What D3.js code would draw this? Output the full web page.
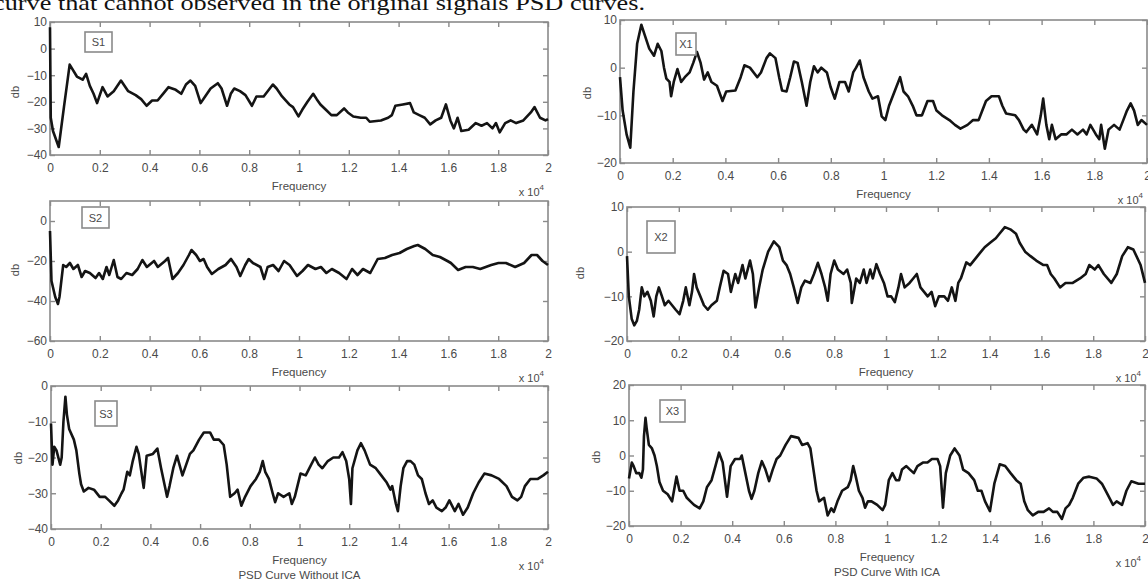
<!DOCTYPE html>
<html>
<head>
<meta charset="utf-8">
<script src="https://cdn.jsdelivr.net/npm/d3@7"></script>
<style>
  html, body { margin: 0; padding: 0; background: #fff; }
  svg { display: block; }
</style>
</head>
<body>
<svg id="chart" width="1148" height="583"></svg>
<script>
// ---------------- DATA (frequency in units of 1e4 Hz, PSD in dB) ----------------
const captionText = "curve that cannot observed in the original signals PSD curves.";
const xTicks = [0, 0.2, 0.4, 0.6, 0.8, 1, 1.2, 1.4, 1.6, 1.8, 2];
const xTickLabels = ["0", "0.2", "0.4", "0.6", "0.8", "1", "1.2", "1.4", "1.6", "1.8", "2"];
const yTicksS1 = [10, 0, -10, -20, -30, -40];
const yTicksS2 = [0, -20, -40, -60];
const yTicksS3 = [0, -10, -20, -30, -40];
const yTicksX1 = [10, 0, -10, -20];
const yTicksX2 = [10, 0, -10, -20];
const yTicksX3 = [20, 10, 0, -10, -20];
const panelNames = ["S1", "S2", "S3", "X1", "X2", "X3"];
const bottomTitles = ["PSD Curve Without ICA", "PSD Curve With ICA"];

const s1Freq = [0.000,0.003,0.012,0.035,0.056,0.079,0.108,0.131,0.145,0.160,0.175,0.189,0.211,0.231,0.256,0.285,0.314,0.344,0.366,0.388,0.410,0.432,0.454,0.476,0.505,0.527,0.546,0.564,0.583,0.605,0.623,0.645,0.674,0.689,0.711,0.726,0.740,0.763,0.785,0.811,0.829,0.858,0.895,0.910,0.932,0.961,0.976,0.998,1.013,1.034,1.057,1.071,1.086,1.108,1.130,1.152,1.181,1.196,1.218,1.248,1.270,1.284,1.329,1.358,1.373,1.387,1.417,1.446,1.461,1.483,1.505,1.527,1.549,1.571,1.590,1.608,1.622,1.637,1.652,1.681,1.710,1.733,1.755,1.777,1.791,1.806,1.828,1.850,1.872,1.901,1.931,1.946,1.968,1.990,2.000];
const s1Db = [8,-26,-31,-37,-22,-6,-10.5,-11.7,-9.5,-14,-17,-20.5,-14.5,-18,-16,-12,-16,-17.5,-19,-21.5,-19.5,-19.5,-17,-14.5,-15.5,-17,-13.5,-12,-14,-20.5,-18,-15,-13,-15,-21.5,-17,-15,-16,-17.5,-21.5,-18,-18,-13.5,-15,-18,-21,-22,-25.5,-23,-20,-17,-19,-21,-23,-25,-25,-22.5,-24,-25.5,-26,-26,-27.5,-27,-26,-25,-21.5,-21,-20.5,-24,-25,-26,-28.5,-27,-26,-21,-27,-30,-26,-31,-30.5,-28,-29,-28,-30,-28,-31.5,-28,-27,-28,-27,-24,-22,-26,-27,-26.5];

const s2Freq = [0.000,0.006,0.021,0.032,0.038,0.053,0.065,0.080,0.094,0.112,0.127,0.141,0.160,0.183,0.197,0.212,0.227,0.238,0.256,0.271,0.286,0.307,0.330,0.352,0.371,0.389,0.418,0.433,0.462,0.474,0.492,0.514,0.536,0.558,0.568,0.587,0.602,0.617,0.631,0.650,0.676,0.705,0.727,0.749,0.764,0.784,0.798,0.815,0.845,0.860,0.874,0.896,0.918,0.940,0.962,0.992,1.014,1.036,1.066,1.088,1.110,1.132,1.161,1.191,1.213,1.235,1.257,1.286,1.316,1.345,1.374,1.404,1.433,1.463,1.477,1.507,1.537,1.566,1.596,1.610,1.639,1.669,1.698,1.728,1.772,1.801,1.831,1.868,1.904,1.934,1.956,1.978,2.000];
const s2Db = [-5,-30,-38,-41.5,-38,-22,-23,-21,-24,-22,-28,-25,-26,-28.5,-26,-29,-23,-27,-19.5,-28,-29,-26,-27,-24,-19.5,-23,-20,-23,-20,-18.5,-29,-26,-22,-17,-14.5,-17,-20,-19,-23,-26.5,-24,-22,-19,-23,-27.5,-22,-19,-21,-23,-29,-23,-22,-25,-20,-22,-27.5,-25,-22,-24,-23,-26,-24,-26,-29,-24,-27,-24,-26,-19,-18.5,-17,-16,-14,-12.5,-12,-14,-17,-18,-20,-21,-24.5,-23,-23,-24,-22,-21,-21,-23,-21,-17,-17,-20,-22];

const s3Freq = [0.000,0.006,0.013,0.022,0.037,0.043,0.050,0.058,0.064,0.073,0.092,0.102,0.114,0.121,0.132,0.151,0.173,0.196,0.218,0.233,0.255,0.270,0.284,0.292,0.307,0.317,0.329,0.344,0.353,0.373,0.385,0.410,0.428,0.443,0.458,0.467,0.477,0.492,0.507,0.517,0.529,0.544,0.559,0.573,0.596,0.615,0.640,0.655,0.676,0.695,0.707,0.721,0.739,0.751,0.766,0.781,0.803,0.825,0.840,0.852,0.862,0.877,0.892,0.902,0.914,0.936,0.959,0.969,0.981,1.004,1.025,1.047,1.062,1.077,1.092,1.114,1.136,1.159,1.173,1.188,1.200,1.207,1.213,1.233,1.247,1.262,1.284,1.307,1.329,1.351,1.366,1.373,1.388,1.396,1.407,1.418,1.433,1.447,1.462,1.477,1.492,1.507,1.521,1.536,1.551,1.573,1.588,1.603,1.625,1.640,1.658,1.677,1.699,1.721,1.744,1.773,1.803,1.833,1.855,1.877,1.892,1.907,1.929,1.959,1.981,2.000];
const s3Db = [-10.5,-22,-17,-18,-22,-20,-10,-3,-8,-12,-15,-18,-24.5,-27.5,-29.5,-28.5,-29,-31,-31,-32,-33.5,-32,-30,-29,-24,-25,-21,-17,-19,-28.5,-19.5,-19,-17.5,-23,-28,-31,-28,-23,-19.5,-22,-25,-22,-19,-18,-15,-13,-13,-15,-15,-16.5,-22,-31,-30,-29,-33.5,-31,-28,-26,-24,-21,-24,-26,-30,-32.5,-30,-31,-30,-33,-31,-24.5,-25,-22,-20,-22,-23,-21,-20,-20,-18.5,-21,-26,-33,-23,-18,-16,-18,-22,-23,-25,-27,-29,-28,-33,-35,-28,-23,-21,-21,-22,-25,-26,-30,-33,-32,-34,-35,-34,-32,-35,-33,-36,-34,-30,-27,-24.5,-25,-26,-28,-31,-32,-31,-28,-26,-26,-25,-24];

const x1Freq = [0.000,0.010,0.025,0.039,0.051,0.065,0.081,0.093,0.111,0.129,0.143,0.157,0.167,0.176,0.188,0.194,0.204,0.218,0.232,0.246,0.264,0.278,0.292,0.306,0.319,0.333,0.347,0.368,0.389,0.403,0.438,0.458,0.472,0.493,0.521,0.535,0.556,0.569,0.590,0.604,0.615,0.632,0.646,0.660,0.674,0.690,0.708,0.722,0.736,0.750,0.764,0.785,0.799,0.815,0.833,0.854,0.868,0.885,0.896,0.910,0.924,0.944,0.958,0.979,0.993,1.007,1.021,1.035,1.049,1.063,1.076,1.093,1.111,1.125,1.146,1.167,1.188,1.201,1.222,1.250,1.271,1.292,1.319,1.340,1.361,1.375,1.389,1.410,1.438,1.451,1.465,1.500,1.514,1.532,1.542,1.563,1.583,1.597,1.606,1.618,1.629,1.639,1.653,1.674,1.694,1.715,1.736,1.757,1.771,1.785,1.806,1.819,1.826,1.840,1.854,1.875,1.896,1.910,1.924,1.938,1.951,1.965,1.979,2.000];
const x1Db = [-2,-9,-14,-16.8,-5,5,9,7,4,2.5,5,3.5,0,-2.3,-3,-6,-3,-0.3,-3,-2,-1,1,3.3,1,-2.5,-1,-3,-3.8,-7,-5,-4.8,-2,0.5,0,-2,-1,2,3,2,-2,-4.8,-5,-2,1.3,1,-3,-8,-3,0.3,-1,0,-1,-4,-6.5,-3,-3,-5,-1,0,1.5,-2,-5,-6.5,-6,-10.2,-11,-8,-6,-4,-2,-5,-6,-8,-10,-10,-7,-7,-9,-10,-11,-12,-12.8,-12,-11,-11,-9,-7,-6,-6,-8,-9.6,-10,-11,-13,-13.5,-12,-14,-10,-6.5,-12,-15,-12,-15,-14,-14,-13,-14,-13,-14,-12,-14,-15,-12,-17,-13,-12,-13,-11,-9,-7.5,-9,-12,-11,-12];

const x2Freq = [0.000,0.007,0.018,0.028,0.038,0.047,0.057,0.067,0.079,0.092,0.103,0.113,0.123,0.135,0.146,0.160,0.174,0.188,0.203,0.217,0.227,0.241,0.251,0.259,0.269,0.283,0.297,0.312,0.326,0.347,0.358,0.373,0.390,0.401,0.418,0.429,0.446,0.457,0.475,0.486,0.496,0.510,0.524,0.545,0.567,0.588,0.602,0.616,0.630,0.644,0.659,0.673,0.687,0.708,0.722,0.737,0.751,0.765,0.775,0.786,0.800,0.814,0.836,0.850,0.864,0.868,0.885,0.899,0.914,0.925,0.939,0.949,0.963,0.977,0.992,1.006,1.020,1.034,1.048,1.058,1.072,1.091,1.105,1.119,1.133,1.147,1.161,1.176,1.190,1.204,1.225,1.239,1.254,1.268,1.279,1.289,1.310,1.325,1.339,1.353,1.367,1.381,1.402,1.424,1.438,1.459,1.480,1.502,1.516,1.537,1.558,1.580,1.608,1.622,1.636,1.650,1.672,1.693,1.721,1.749,1.771,1.785,1.806,1.820,1.841,1.870,1.891,1.912,1.934,1.955,1.983,2.000];
const x2Db = [-1,-10,-15,-16.5,-15.5,-13,-8,-10,-9,-11,-14.5,-10,-8,-10,-12,-11,-12,-13,-14,-11,-8,-12,-9,-5,-8,-10,-12,-13,-12,-11,-8,-4.3,-5,-9,-5,-7,-3,-6,-2,-5,-12.5,-8,-4,0,2.3,1,-2,-3,-5,-8,-11.5,-8,-6.5,-7,-5,-2.5,-5,-8,-11,-5,-2,-4,-5,-4,-7,-11.5,-6,-7,-4,-7,-4,-6,-2.8,-5,-7,-10,-10,-11.3,-8,-5,-8,-7,-6,-5,-8,-9,-10,-9,-12.2,-10,-10,-11,-8,-11,-7,-6,-2.4,-3,-2,-1,0,1,2,3,4,5.5,5,4,2,0,-1,-2,-3,-3,-5,-6,-8,-7,-7,-6,-5,-3,-4,-3,-5,-7,-5,-1,1,0.5,-3,-7];

const x3Freq = [0.000,0.011,0.018,0.028,0.040,0.048,0.054,0.058,0.064,0.068,0.077,0.089,0.099,0.108,0.118,0.132,0.150,0.167,0.184,0.196,0.210,0.224,0.238,0.252,0.274,0.288,0.302,0.320,0.335,0.349,0.363,0.380,0.394,0.411,0.430,0.437,0.451,0.465,0.475,0.486,0.501,0.515,0.529,0.543,0.557,0.572,0.586,0.607,0.628,0.657,0.671,0.692,0.703,0.713,0.727,0.737,0.756,0.770,0.784,0.794,0.808,0.826,0.848,0.859,0.869,0.879,0.891,0.905,0.915,0.926,0.940,0.962,0.983,0.993,1.007,1.021,1.035,1.047,1.058,1.075,1.089,1.104,1.118,1.139,1.157,1.174,1.196,1.206,1.217,1.228,1.245,1.262,1.281,1.295,1.316,1.338,1.352,1.366,1.380,1.399,1.416,1.437,1.458,1.479,1.501,1.518,1.532,1.546,1.565,1.586,1.607,1.628,1.643,1.660,1.678,1.692,1.706,1.720,1.741,1.762,1.784,1.812,1.833,1.855,1.876,1.890,1.911,1.928,1.947,1.975,2.000];
const x3Db = [-6.5,-2,-3,-5,-5,-6.3,-4,5.5,10.7,8,3,2,0,-3,-7.5,-10,-11,-13,-6,-10,-10,-12,-13,-14,-15,-13,-9,-7,-3,0.8,-2,-11.7,-3,-1,-1,0,-5,-10,-12.3,-10,-5,-1.6,-4,-7.3,-4,-1,0,3,5.5,5,3,3.5,2,-3,-10,-13,-12,-17,-15,-16,-13,-10,-9,-7,-3,-6,-10,-12,-14.8,-13,-13,-14,-15.5,-14,-7,-5,-7,-7,-4,-3,-4,-5,-3,-2,-2,-1,-1,-3,-14.8,-5,0,2,0,-4,-5,-7,-10,-10,-13,-15.8,-8,-2.5,-3,-5,-7,-8,-13,-15.5,-17,-16,-16,-15,-16,-16,-18,-15,-14,-12,-8,-6.3,-6,-6.5,-8,-11,-14,-13,-14,-10,-7.3,-8,-8];

// ---------------- LAYOUT ----------------
const panels = [
  { name: panelNames[0], f: s1Freq, v: s1Db, yDom: [-40, 10], yTicks: yTicksS1, l: 50, r: 548, t: 22, b: 155, box: [85, 32, 27, 20], dbPos: [15, 92] },
  { name: panelNames[1], f: s2Freq, v: s2Db, yDom: [-60, 10], yTicks: yTicksS2, l: 50, r: 548, t: 201, b: 341, box: [82, 207, 27, 21], dbPos: [15, 270] },
  { name: panelNames[2], f: s3Freq, v: s3Db, yDom: [-40, 0], yTicks: yTicksS3, l: 51, r: 548, t: 386, b: 529, box: [95, 401, 22, 25], dbPos: [18, 458], title: bottomTitles[0] },
  { name: panelNames[3], f: x1Freq, v: x1Db, yDom: [-20, 10], yTicks: yTicksX1, l: 620, r: 1147, t: 20, b: 163, box: [676, 33, 20, 22], dbPos: [587, 93] },
  { name: panelNames[4], f: x2Freq, v: x2Db, yDom: [-20, 10], yTicks: yTicksX2, l: 627, r: 1145, t: 207, b: 341, box: [647, 221, 28, 32], dbPos: [580, 273] },
  { name: panelNames[5], f: x3Freq, v: x3Db, yDom: [-20, 20], yTicks: yTicksX3, l: 629, r: 1145, t: 385, b: 526, box: [660, 400, 25, 22], dbPos: [596, 457], title: bottomTitles[1] }
];

const svg = d3.select("#chart");
const sans = "'Liberation Sans', Arial, sans-serif";
const textCol = "#4a4a4a";
const frameCol = "#8a8a8a";

// caption fragment at top (cut off text from the source document)
svg.append("text")
  .attr("x", -7).attr("y", 10)
  .attr("font-family", "'Liberation Serif', 'Times New Roman', serif")
  .attr("font-size", 22)
  .attr("fill", "#111")
  .attr("textLength", 652)
  .attr("lengthAdjust", "spacingAndGlyphs")
  .text(captionText);

panels.forEach(p => {
  const x = d3.scaleLinear().domain([0, 2]).range([p.l, p.r]);
  const y = d3.scaleLinear().domain(p.yDom).range([p.b, p.t]);
  const g = svg.append("g");

  const xAxis = g.append("g").attr("transform", `translate(0,${p.b})`)
    .call(d3.axisBottom(x).tickValues(xTicks).tickFormat((d, i) => xTickLabels[i]).tickSize(-5).tickPadding(8));
  const yAxis = g.append("g").attr("transform", `translate(${p.l},0)`)
    .call(d3.axisLeft(y).tickValues(p.yTicks).tickFormat(d3.format("d")).tickSize(-5).tickPadding(3));
  const xTop = g.append("g").attr("transform", `translate(0,${p.t})`)
    .call(d3.axisTop(x).tickValues(xTicks).tickFormat("").tickSize(-5));
  const yRight = g.append("g").attr("transform", `translate(${p.r},0)`)
    .call(d3.axisRight(y).tickValues(p.yTicks).tickFormat("").tickSize(-5));

  [xAxis, yAxis, xTop, yRight].forEach(a => {
    a.select(".domain").remove();
    a.selectAll(".tick line").attr("stroke", frameCol).attr("stroke-width", 1.4);
    a.selectAll(".tick text").attr("font-family", sans).attr("font-size", 12).attr("fill", textCol);
  });

  g.append("rect")
    .attr("x", p.l).attr("y", p.t)
    .attr("width", p.r - p.l).attr("height", p.b - p.t)
    .attr("fill", "none").attr("stroke", frameCol).attr("stroke-width", 1.6);

  const pts = p.f.map((fv, i) => [fv, p.v[i]]);
  g.append("path")
    .datum(pts)
    .attr("fill", "none")
    .attr("stroke", "#141414")
    .attr("stroke-width", 2.6)
    .attr("stroke-linejoin", "round")
    .attr("d", d3.line().x(d => x(d[0])).y(d => y(d[1])));

  g.append("rect")
    .attr("x", p.box[0]).attr("y", p.box[1])
    .attr("width", p.box[2]).attr("height", p.box[3])
    .attr("fill", "#fff").attr("stroke", frameCol).attr("stroke-width", 1.6);
  g.append("text")
    .attr("x", p.box[0] + p.box[2] / 2).attr("y", p.box[1] + p.box[3] / 2 + 4)
    .attr("text-anchor", "middle")
    .attr("font-family", sans).attr("font-size", 11).attr("fill", textCol)
    .text(p.name);

  g.append("text")
    .attr("transform", `translate(${p.dbPos[0]},${p.dbPos[1]}) rotate(-90)`)
    .attr("text-anchor", "middle")
    .attr("dy", "0.35em")
    .attr("font-family", sans).attr("font-size", 11).attr("fill", textCol)
    .text("db");

  g.append("text")
    .attr("x", (p.l + p.r) / 2).attr("y", p.b + 35)
    .attr("text-anchor", "middle")
    .attr("font-family", sans).attr("font-size", 11.5).attr("fill", textCol)
    .text("Frequency");

  const ex = g.append("text")
    .attr("x", p.r - 4).attr("y", p.b + 41)
    .attr("text-anchor", "end")
    .attr("font-family", sans).attr("font-size", 11).attr("fill", textCol);
  ex.append("tspan").text("x 10");
  ex.append("tspan").attr("dy", -6).attr("font-size", 8).text("4");

  if (p.title) {
    g.append("text")
      .attr("x", (p.l + p.r) / 2).attr("y", p.b + 50)
      .attr("text-anchor", "middle")
      .attr("font-family", sans).attr("font-size", 11.5).attr("fill", textCol)
      .text(p.title);
  }
});
</script>
</body>
</html>
